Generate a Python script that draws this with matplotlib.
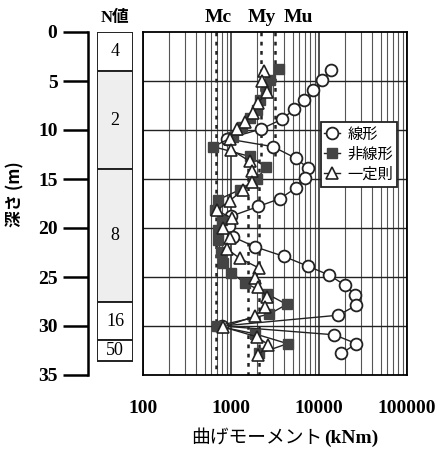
import matplotlib
matplotlib.use('Agg')
import matplotlib.pyplot as plt
import numpy as np
from matplotlib.patches import Rectangle

# soil layers (depth m) and N values
layer_top = [0, 4, 14, 27.6, 31.4]
layer_bot = [4, 14, 27.6, 31.4, 33.6]
n_value = [4, 2, 8, 16, 50]
layer_shaded = [False, True, True, False, False]

# linear (circles)
lin_depth = [3.9, 4.9, 5.9, 6.9, 7.9, 8.9, 9.9, 10.9, 11.7, 12.9, 13.9, 14.9, 15.9,
             17.0, 17.8, 18.8, 19.8, 20.9, 21.9, 22.9, 23.9, 24.8, 25.8, 26.8, 27.9,
             28.9, 30.0, 30.9, 31.8, 32.8]
lin_m = [13600, 10700, 8600, 6800, 5200, 3800, 2200, 900, 3000, 5500, 7500, 7000, 5500,
         3600, 2050, 1000, 950, 1050, 1850, 4000, 7500, 13000, 19500, 25500, 26500,
         16500, 800, 15000, 26500, 18000]

# nonlinear (squares)
nl_depth = [3.8, 4.9, 5.9, 6.9, 8.0, 8.8, 9.7, 10.7, 11.7, 12.7, 13.8, 15.0, 16.1,
            17.1, 18.2, 19.2, 20.2, 21.2, 22.4, 23.6, 24.6, 25.6, 26.7, 27.8, 28.8,
            30.0, 30.8, 31.8, 32.8]
nl_m = [3540, 2770, 2500, 2140, 1960, 1640, 1320, 1050, 630, 1640, 2500, 1960, 1260,
        720, 660, 780, 710, 710, 760, 810, 1010, 1440, 2540, 4300, 2700,
        690, 1870, 4400, 2100]

# constant rule (triangles)
cr_depth = [4.0, 5.0, 6.1, 7.2, 8.3, 9.2, 9.9, 10.9, 12.0, 13.2, 14.2, 15.3, 16.1,
            17.2, 18.2, 19.0, 20.0, 21.0, 22.1, 23.1, 24.1, 25.1, 26.0, 27.0, 28.1,
            29.0, 30.1, 31.1, 31.9, 33.0]
cr_m = [2370, 2240, 2580, 2050, 1790, 1440, 1160, 970, 1000, 1640, 1720, 1720, 1380,
        970, 690, 1020, 820, 970, 890, 1260, 2100, 1870, 2050, 2540, 2430,
        1870, 820, 1960, 2660, 2050]

# capacity lines: Mc full depth, My / Mu change at 13 m
mc = 680
my_upper, mu_upper = 2190, 3160
my_lower, mu_lower = 1570, 2090
change_depth = 13

serif = 'Liberation Serif'
jp = ['Noto Sans CJK JP', 'DejaVu Sans']

fig = plt.figure(figsize=(4.41, 4.51), dpi=100)
W, H = 441, 451

def frac(x0, y0, x1, y1):
    return [x0 / W, 1 - y1 / H, (x1 - x0) / W, (y1 - y0) / H]

# depth scale
axd = fig.add_axes(frac(88, 32, 89, 375))
axd.set_ylim(35, 0)
axd.set_xticks([])
for s in ['top', 'right', 'bottom']:
    axd.spines[s].set_visible(False)
axd.spines['left'].set_linewidth(1.8)
axd.set_yticks(np.arange(0, 36, 5))
axd.tick_params(axis='y', length=18, width=1.8, pad=4)
for t in axd.get_yticklabels():
    t.set_fontfamily(serif)
    t.set_fontweight('bold')
    t.set_fontsize(14)
axd.patch.set_visible(False)
fig.text(15 / W, 1 - 194 / H, '深さ (m)', rotation=90, ha='center', va='center',
         fontsize=12, fontweight='bold', family=jp)

# N value column
axn = fig.add_axes(frac(97, 32, 133, 375))
axn.set_ylim(35, 0)
axn.set_xlim(0, 1)
axn.axis('off')
for top, bot, n, sh in zip(layer_top, layer_bot, n_value, layer_shaded):
    axn.add_patch(Rectangle((0, top), 1, bot - top, facecolor='#eeeeee' if sh else 'white',
                            edgecolor='#222222', lw=1.4))
    axn.text(0.5, (top + bot) / 2, str(n), ha='center', va='center', fontsize=13,
             family=serif)
fig.text(115 / W, 1 - 18 / H, 'N値', ha='center', va='center', fontsize=12,
         fontweight='bold', family=[serif, 'Noto Sans CJK JP'])

# main chart
ax = fig.add_axes(frac(143, 32, 407, 375))
ax.set_xscale('log')
ax.set_xlim(100, 100000)
ax.set_ylim(35, 0)
ax.grid(which='minor', axis='x', color='#555555', lw=0.8)
ax.grid(which='major', axis='x', color='#222222', lw=1.1)
ax.set_yticks(np.arange(5, 35, 5))
ax.grid(which='major', axis='y', color='#222222', lw=1.0)
ax.tick_params(which='both', length=0)
ax.set_yticklabels([])
ax.set_xticks([100, 1000, 10000, 100000])
ax.set_xticklabels(['100', '1000', '10000', '100000'])
ax.tick_params(axis='x', pad=18)
for t in ax.get_xticklabels():
    t.set_fontfamily(serif)
    t.set_fontweight('bold')
    t.set_fontsize(14)
for s in ax.spines.values():
    s.set_linewidth(1.3)
ax.set_axisbelow(True)

dot = (0, (1.5, 2.2))
ax.plot([mc, mc], [0, 35], color='#222222', ls=dot, lw=1.8)
ax.plot([my_upper, my_upper], [0, change_depth], color='#222222', ls=dot, lw=1.8)
ax.plot([mu_upper, mu_upper], [0, change_depth], color='#222222', ls=dot, lw=1.8)
ax.plot([my_lower, my_lower], [change_depth, 35], color='#222222', ls=dot, lw=1.8)
ax.plot([mu_lower, mu_lower], [change_depth, 35], color='#222222', ls=dot, lw=1.8)

ax.plot(lin_m, lin_depth, color='#222222', lw=1.0, marker='o', ms=8.5, mfc='white',
        mec='#222222', mew=1.3, label='線形')
ax.plot(nl_m, nl_depth, color='#222222', lw=1.0, marker='s', ms=7, mfc='#444444',
        mec='#444444', label='非線形')
ax.plot(cr_m, cr_depth, color='#222222', lw=1.0, marker='^', ms=8, mfc='white',
        mec='#222222', mew=1.2, label='一定則')

leg = ax.legend(loc='upper right', bbox_to_anchor=(0.962, 0.738), prop={'family': jp, 'size': 11},
                frameon=True, fancybox=False, edgecolor='#222222', framealpha=1,
                handlelength=1.0, handletextpad=0.5, borderpad=0.25, labelspacing=0.2,
                borderaxespad=0)
leg.get_frame().set_linewidth(1.3)

for name, xp in [('Mc', 218), ('My', 262), ('Mu', 298)]:
    fig.text(xp / W, 1 - 17 / H, name, ha='center', va='center', fontsize=14,
             family=serif, fontweight='bold')

# x label: japanese part + bold serif unit
fig.text(322 / W, 1 - 443 / H, '曲げモーメント', ha='right', va='baseline',
         fontsize=13.5, family=jp)
fig.text(324 / W, 1 - 443 / H, '(kNm)', ha='left', va='baseline',
         fontsize=14, family=serif, fontweight='bold')

fig.savefig('out.png', dpi=100)
